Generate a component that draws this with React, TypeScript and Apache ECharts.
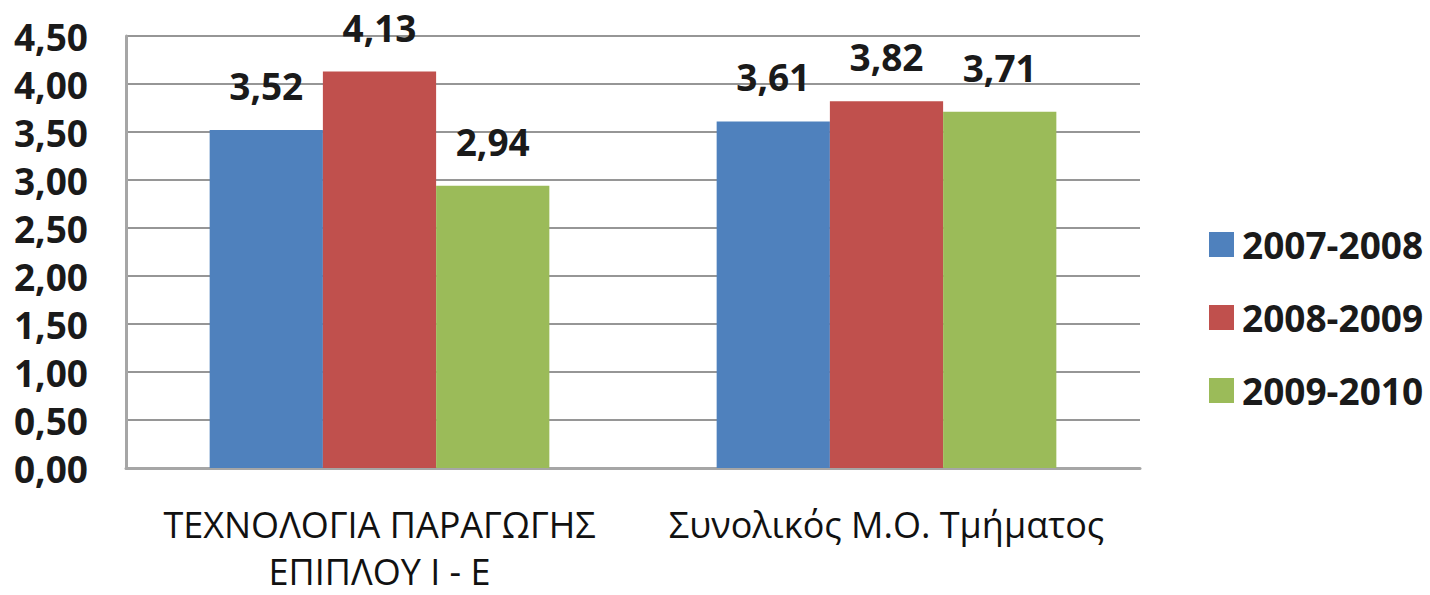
import React, { useEffect, useRef } from "react";
import * as echarts from "echarts";

const categories = ["ΤΕΧΝΟΛΟΓΙΑ ΠΑΡΑΓΩΓΗΣ\nΕΠΙΠΛΟΥ Ι - Ε", "Συνολικός Μ.Ο. Τμήματος"];
const seriesNames = ["2007-2008", "2008-2009", "2009-2010"];
const values2007 = [3.52, 3.61];
const values2008 = [4.13, 3.82];
const values2009 = [2.94, 3.71];
const colors = ["#4f81bd", "#c0504d", "#9bbb59"];

const FONT = "'Open Sans', 'DejaVu Sans', sans-serif";
const comma = (v: number) => v.toFixed(2).replace(".", ",");

export default function App() {
  const ref = useRef<HTMLDivElement>(null);
  useEffect(() => {
    if (!ref.current) return;
    const chart = echarts.init(ref.current, undefined, { renderer: "svg" });
    const data = [values2007, values2008, values2009];
    chart.setOption({
      animation: false,
      backgroundColor: "#ffffff",
      grid: { left: 126, right: 290, top: 36, bottom: 127, outerBoundsMode: "none", containLabel: false },
      legend: {
        orient: "vertical",
        left: 1204,
        top: 221,
        itemWidth: 25,
        itemHeight: 25,
        itemGap: 36,
        icon: "rect",
        data: seriesNames,
        textStyle: { fontFamily: FONT, fontSize: 37, color: "#1a1a1a", fontWeight: "bold", padding: [0, 0, 0, 3] },
      },
      xAxis: {
        type: "category",
        data: categories,
        axisLine: { show: true, lineStyle: { color: "#a6a6a6", width: 3 } },
        axisTick: { show: false },
        axisLabel: {
          fontFamily: FONT,
          fontSize: 36,
          color: "#111",
          margin: 33,
          lineHeight: 47,
          interval: 0,
        },
      },
      yAxis: {
        type: "value",
        min: 0,
        max: 4.5,
        interval: 0.5,
        axisLine: { show: true, lineStyle: { color: "#a6a6a6", width: 3 } },
        axisTick: { show: false },
        splitLine: { lineStyle: { color: "#969696", width: 2 } },
        axisLabel: {
          fontFamily: FONT,
          fontSize: 37,
          fontWeight: "bold",
          color: "#1a1a1a",
          margin: 38,
          formatter: (v: number) => comma(v),
        },
      },
      series: seriesNames.map((name, i) => ({
        name,
        type: "bar",
        data: data[i],
        barGap: "0%",
        barCategoryGap: "33%",
        itemStyle: { color: colors[i] },
        label: {
          show: true,
          position: "top",
          distance: 26,
          fontFamily: FONT,
          fontSize: 37,
          fontWeight: "bold",
          color: "#1a1a1a",
          formatter: (p: any) => comma(p.value),
        },
      })),
    });
    return () => chart.dispose();
  }, []);
  return <div ref={ref} style={{ width: 1430, height: 595, position: "absolute", left: 0, top: 0 }} />;
}
